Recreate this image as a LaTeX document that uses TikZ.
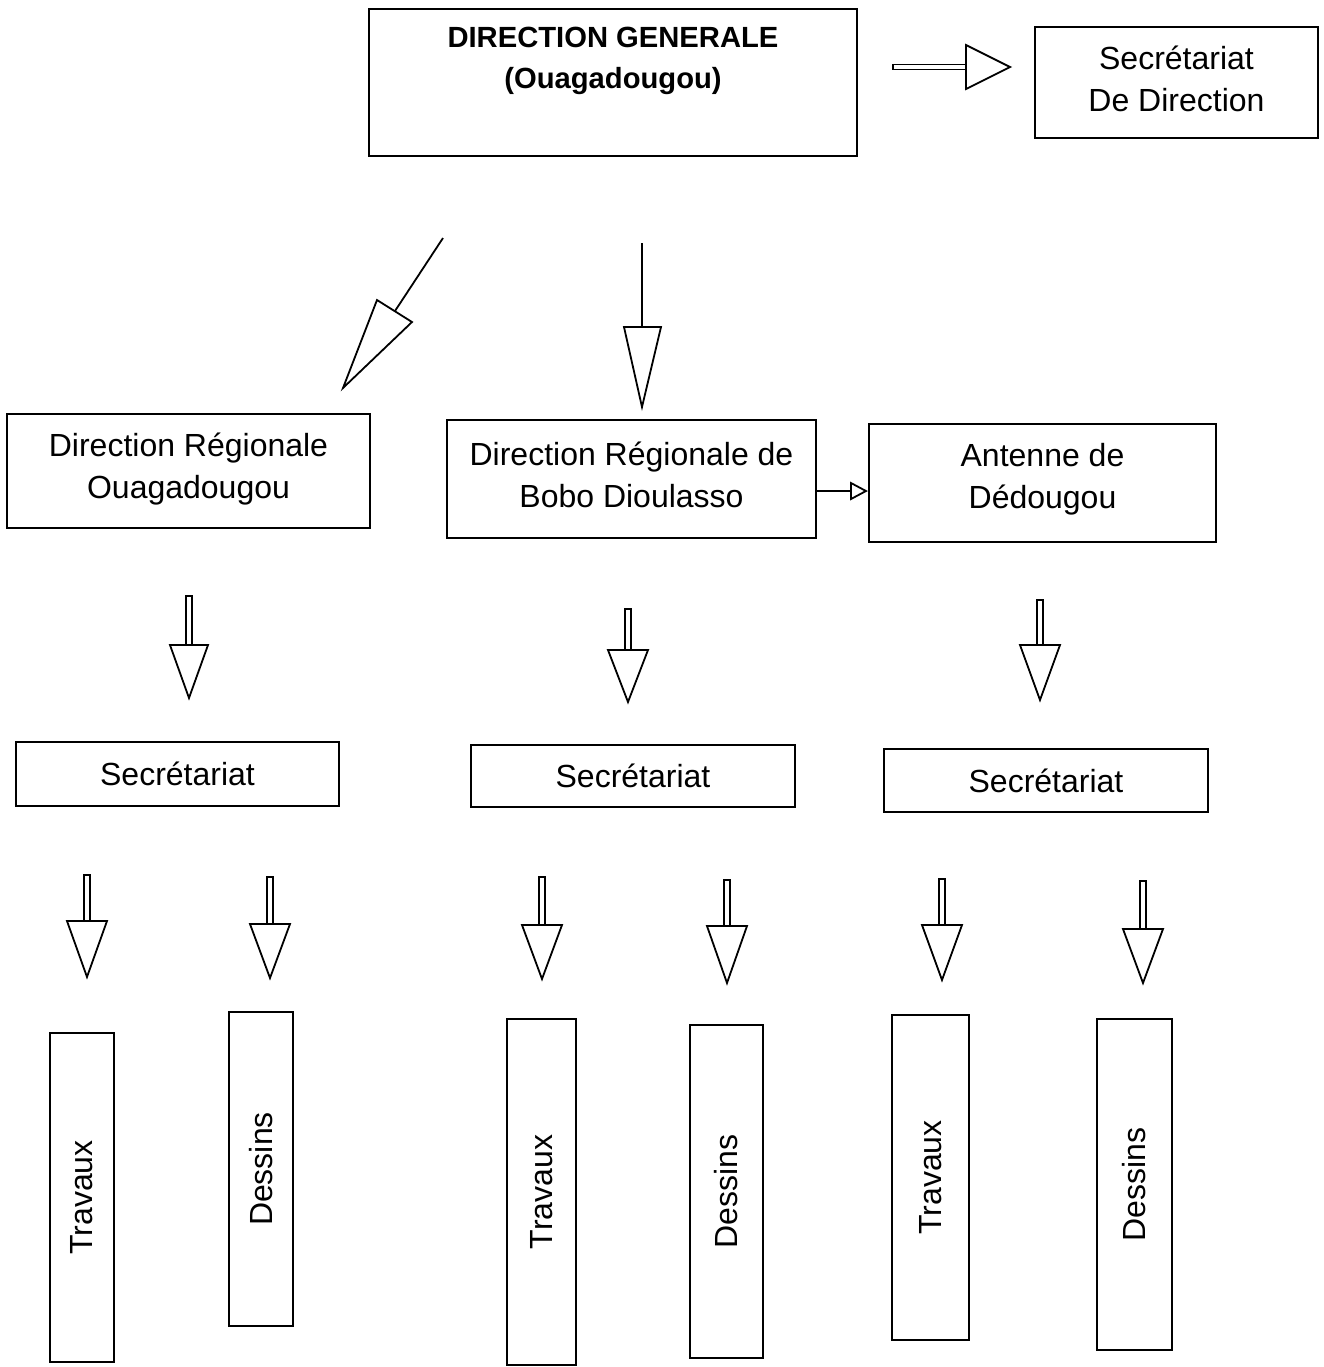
\documentclass[tikz,border=0pt]{standalone}
\usepackage{fontspec}
\setmainfont{Liberation Sans}
\begin{document}
\begin{tikzpicture}[x=0.5pt,y=-0.5pt,
  box/.style={draw=black, line width=0.8pt, inner sep=0pt, align=center,
    font=\fontsize{16}{21}\selectfont},
  txt/.style={inner sep=0pt, align=center, font=\fontsize{16}{21}\selectfont},
  arr/.style={draw=black, line width=0.9pt, fill=white, line join=miter}]
\useasboundingbox (0,0) rectangle (1324,1367);
\newcommand\blkdown[5]{% x, ytop, ybase, ytip, halfwidth
  \draw[arr] (#1-3,#2) rectangle (#1+3,#3);
  \draw[arr] (#1-#5,#3) -- (#1+#5,#3) -- (#1,#4) -- cycle;}
% top level
\node[box, minimum width=244pt, minimum height=73.5pt] (dg) at (613,82.5) {};
\node[font=\fontsize{14.6}{20.5}\selectfont\bfseries, align=center, anchor=north] (dgt) at (613,20) {DIRECTION GENERALE\\(Ouagadougou)};
\node[box, minimum width=141.5pt, minimum height=55.5pt] (sd) at (1176.5,82.5) {};
\node[txt] (sdt) at (1176.5,79) {Secrétariat\\De Direction};
% arrow to secretariat
\draw[arr] (893,64.5) rectangle (966,69.5);
\draw[arr] (966,45) -- (966,89) -- (1010,67) -- cycle;
% regional
\node[box, minimum width=181.5pt, minimum height=57pt] (dro) at (188.5,471) {};
\node[txt] (drot) at (188.5,469) {Direction Régionale\\Ouagadougou};
\node[box, minimum width=184.5pt, minimum height=59pt] (drb) at (631.5,479) {};
\node[txt] (drbt) at (631.5,475) {Direction Régionale de\\Bobo Dioulasso};
\node[box, minimum width=173.5pt, minimum height=59pt] (add) at (1042.5,483) {};
\node[txt] (addt) at (1042.5,479) {Antenne de\\Dédougou};
% diagonal and middle arrows
\draw[arr] (443,238) -- (395,311);
\draw[arr] (377,300) -- (412,322) -- (343,388) -- cycle;
\draw[arr] (642,243) -- (642,327);
\draw[arr] (624,327) -- (661,327) -- (642,407) -- cycle;
% small arrow Bobo -> Antenne
\draw[arr] (drb.east |- 0,491) -- (851,491);
\draw[arr] (851,483) -- (851,499) -- (866,491) -- cycle;
% arrows to secretariats
\blkdown{189}{596}{645}{698}{19}
\blkdown{628}{609}{650}{702}{20}
\blkdown{1040}{600}{645}{700}{20}
% secretariats
\node[box, minimum width=161.5pt, minimum height=32pt] (sl) at (177.5,774) {Secrétariat};
\node[box, minimum width=162pt, minimum height=31pt] (sm) at (633,776) {Secrétariat};
\node[box, minimum width=162pt, minimum height=31.5pt] (sr) at (1046,780.5) {Secrétariat};
% lower arrows
\blkdown{87}{875}{921}{977}{20}
\blkdown{270}{877}{924}{978}{20}
\blkdown{542}{877}{925}{979}{20}
\blkdown{727}{880}{926}{983}{20}
\blkdown{942}{879}{925}{980}{20}
\blkdown{1143}{881}{929}{983}{20}
% tall boxes
\node[box, rotate=90, minimum width=164.5pt, minimum height=32pt] (tl) at (82,1197.5) {Travaux};
\node[box, rotate=90, minimum width=157pt, minimum height=32pt] (dl) at (261,1169) {Dessins};
\node[box, rotate=90, minimum width=173pt, minimum height=34.5pt] (tm) at (541.5,1192) {Travaux};
\node[box, rotate=90, minimum width=166.5pt, minimum height=36.5pt] (dm) at (726.5,1191.5) {Dessins};
\node[box, rotate=90, minimum width=162.5pt, minimum height=38.5pt] (tr) at (930.5,1177.5) {Travaux};
\node[box, rotate=90, minimum width=165.5pt, minimum height=37.5pt] (dr) at (1134.5,1184.5) {Dessins};
\end{tikzpicture}
\end{document}
